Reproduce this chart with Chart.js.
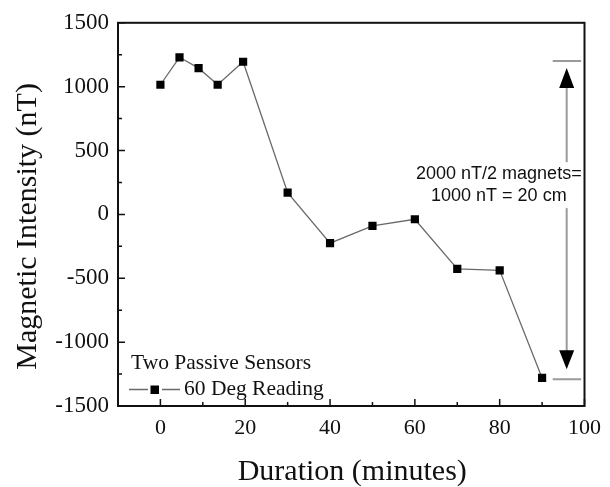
<!DOCTYPE html>
<html>
<head>
<meta charset="utf-8">
<script src="https://cdn.jsdelivr.net/npm/chart.js@4/dist/chart.umd.min.js"></script>
<style>
  html, body { margin: 0; padding: 0; background: #fff; }
  #wrap { width: 610px; height: 487px; position: relative; }
</style>
</head>
<body>
<div id="wrap"><canvas id="c"></canvas></div>
<script>
// Readings: duration (minutes) and magnetic intensity (nT)
const durations = [0, 4.5, 9, 13.5, 19.5, 30, 40, 50, 60, 70, 80, 90];
const intensity = [1015, 1230, 1145, 1015, 1195, 170, -225, -90, -38, -427, -438, -1280];

const xTickValues = [0, 20, 40, 60, 80, 100];
const xMinorValues = [-10, 10, 30, 50, 70, 90];
const yTickValues = [-1500, -1000, -500, 0, 500, 1000, 1500];
const yMinorValues = [-1250, -750, -250, 250, 750, 1250];

const xTitle = 'Duration (minutes)';
const yTitle = 'Magnetic Intensity (nT)';
const seriesLabel = '60 Deg Reading';
const legendTitle = 'Two Passive Sensors';
const noteLines = ['2000 nT/2 magnets=', '1000 nT = 20 cm'];
// span marked on the right: from the high plateau to the final reading
const spanTop = 1200;
const spanBottom = -1290;

const SERIF = '"Liberation Serif", "Times New Roman", serif';
const SANS = '"Liberation Sans", Arial, sans-serif';

// inward-facing ticks, a closed frame and the axis titles
const framePlugin = {
  id: 'frame',
  afterDraw(chart) {
    const { ctx, chartArea: a, scales: { x, y } } = chart;
    ctx.save();
    ctx.strokeStyle = '#111';
    ctx.lineWidth = 1.5;
    ctx.beginPath();
    xTickValues.forEach(v => { const px = x.getPixelForValue(v); ctx.moveTo(px, a.bottom); ctx.lineTo(px, a.bottom - 7); });
    xMinorValues.forEach(v => { const px = x.getPixelForValue(v); ctx.moveTo(px, a.bottom); ctx.lineTo(px, a.bottom - 4); });
    yTickValues.forEach(v => { const py = y.getPixelForValue(v); ctx.moveTo(a.left, py); ctx.lineTo(a.left + 7, py); });
    yMinorValues.forEach(v => { const py = y.getPixelForValue(v); ctx.moveTo(a.left, py); ctx.lineTo(a.left + 4, py); });
    ctx.stroke();
    ctx.lineWidth = 2;
    ctx.strokeRect(a.left, a.top, a.right - a.left, a.bottom - a.top);

    ctx.fillStyle = '#111';
    ctx.font = '30px ' + SERIF;
    ctx.textAlign = 'center';
    ctx.textBaseline = 'middle';
    ctx.fillText(xTitle, (a.left + a.right) / 2 + 1, a.bottom + 66);
    ctx.translate(28, (a.top + a.bottom) / 2 + 12);
    ctx.rotate(-Math.PI / 2);
    ctx.fillText(yTitle, 0, 0);
    ctx.restore();
  }
};

// span bracket with double arrow and its note
const spanPlugin = {
  id: 'span',
  afterDatasetsDraw(chart) {
    const { ctx, scales: { x, y } } = chart;
    const xa = x.getPixelForValue(95.8);
    const xl = x.getPixelForValue(92.5);
    const xr = x.getPixelForValue(99.2);
    const yT = y.getPixelForValue(spanTop);
    const yB = y.getPixelForValue(spanBottom);
    ctx.save();
    ctx.strokeStyle = '#9a9a9a';
    ctx.lineWidth = 2;
    ctx.beginPath();
    ctx.moveTo(xl, yT); ctx.lineTo(xr, yT);
    ctx.moveTo(xl, yB); ctx.lineTo(xr, yB);
    ctx.moveTo(xa, yT + 26); ctx.lineTo(xa, yB - 28);
    ctx.stroke();
    ctx.fillStyle = '#000';
    ctx.beginPath();
    ctx.moveTo(xa, yT + 7); ctx.lineTo(xa - 7.5, yT + 27); ctx.lineTo(xa + 7.5, yT + 27); ctx.closePath();
    ctx.moveTo(xa, yB - 10); ctx.lineTo(xa - 7.5, yB - 29); ctx.lineTo(xa + 7.5, yB - 29); ctx.closePath();
    ctx.fill();
    // note with a white backing so the shaft breaks around it
    ctx.font = '18px ' + SANS;
    ctx.textAlign = 'center';
    ctx.textBaseline = 'middle';
    const cx = x.getPixelForValue(79.8);
    const y1 = y.getPixelForValue(315);
    const y2 = y.getPixelForValue(143);
    ctx.fillStyle = '#fff';
    const w = ctx.measureText(noteLines[0]).width;
    ctx.fillRect(cx - w / 2 - 2, y1 - 12, w + 4, (y2 - y1) + 24);
    ctx.fillStyle = '#111';
    ctx.fillText(noteLines[0], cx, y1);
    ctx.fillText(noteLines[1], cx, y2);
    ctx.restore();
  }
};

// legend box in the lower-left corner of the plot
const cornerLegend = {
  id: 'cornerLegend',
  afterDraw(chart) {
    const { ctx, chartArea: a } = chart;
    const ds = chart.data.datasets[0];
    ctx.save();
    ctx.font = '21.5px ' + SERIF;
    ctx.fillStyle = '#111';
    ctx.textAlign = 'left';
    ctx.textBaseline = 'middle';
    ctx.fillText(legendTitle, a.left + 13, a.bottom - 43);
    const ly = a.bottom - 16.5;
    ctx.strokeStyle = ds.borderColor;
    ctx.lineWidth = 1.5;
    ctx.beginPath();
    ctx.moveTo(a.left + 11, ly); ctx.lineTo(a.left + 30, ly);
    ctx.moveTo(a.left + 44, ly); ctx.lineTo(a.left + 62, ly);
    ctx.stroke();
    ctx.fillStyle = '#000';
    ctx.fillRect(a.left + 32.5, ly - 4, 8.5, 8.5);
    ctx.fillStyle = '#111';
    ctx.fillText(ds.label, a.left + 66, ly);
    ctx.restore();
  }
};

new Chart(document.getElementById('c'), {
  type: 'line',
  data: {
    datasets: [{
      label: seriesLabel,
      data: durations.map((d, i) => ({ x: d, y: intensity[i] })),
      borderColor: '#6a6a6a',
      borderWidth: 1.3,
      pointStyle: 'rect',
      pointRadius: 5.8,
      pointHoverRadius: 5.8,
      pointBackgroundColor: '#000',
      pointBorderColor: '#000',
      pointBorderWidth: 0,
      tension: 0,
      fill: false
    }]
  },
  options: {
    responsive: true,
    maintainAspectRatio: false,
    animation: false,
    events: [],
    layout: { padding: { top: 14, right: 22, left: 0, bottom: 0 } },
    plugins: { legend: { display: false }, tooltip: { enabled: false } },
    scales: {
      x: {
        type: 'linear',
        min: -10,
        max: 100,
        grid: { display: false, drawTicks: false },
        border: { display: false },
        afterBuildTicks: s => { s.ticks = xTickValues.map(v => ({ value: v })); },
        afterFit: s => { s.height = 81; },
        ticks: {
          color: '#111',
          padding: 9,
          maxRotation: 0,
          font: { family: SERIF, size: 22 },
          callback: v => String(v)
        }
      },
      y: {
        type: 'linear',
        min: -1500,
        max: 1500,
        grid: { display: false, drawTicks: false },
        border: { display: false },
        afterBuildTicks: s => { s.ticks = yTickValues.map(v => ({ value: v })); },
        afterFit: s => { s.width = 118; },
        ticks: {
          color: '#111',
          padding: 9,
          font: { family: SERIF, size: 23 },
          callback: v => String(v)
        }
      }
    }
  },
  plugins: [framePlugin, spanPlugin, cornerLegend]
});
</script>
</body>
</html>
